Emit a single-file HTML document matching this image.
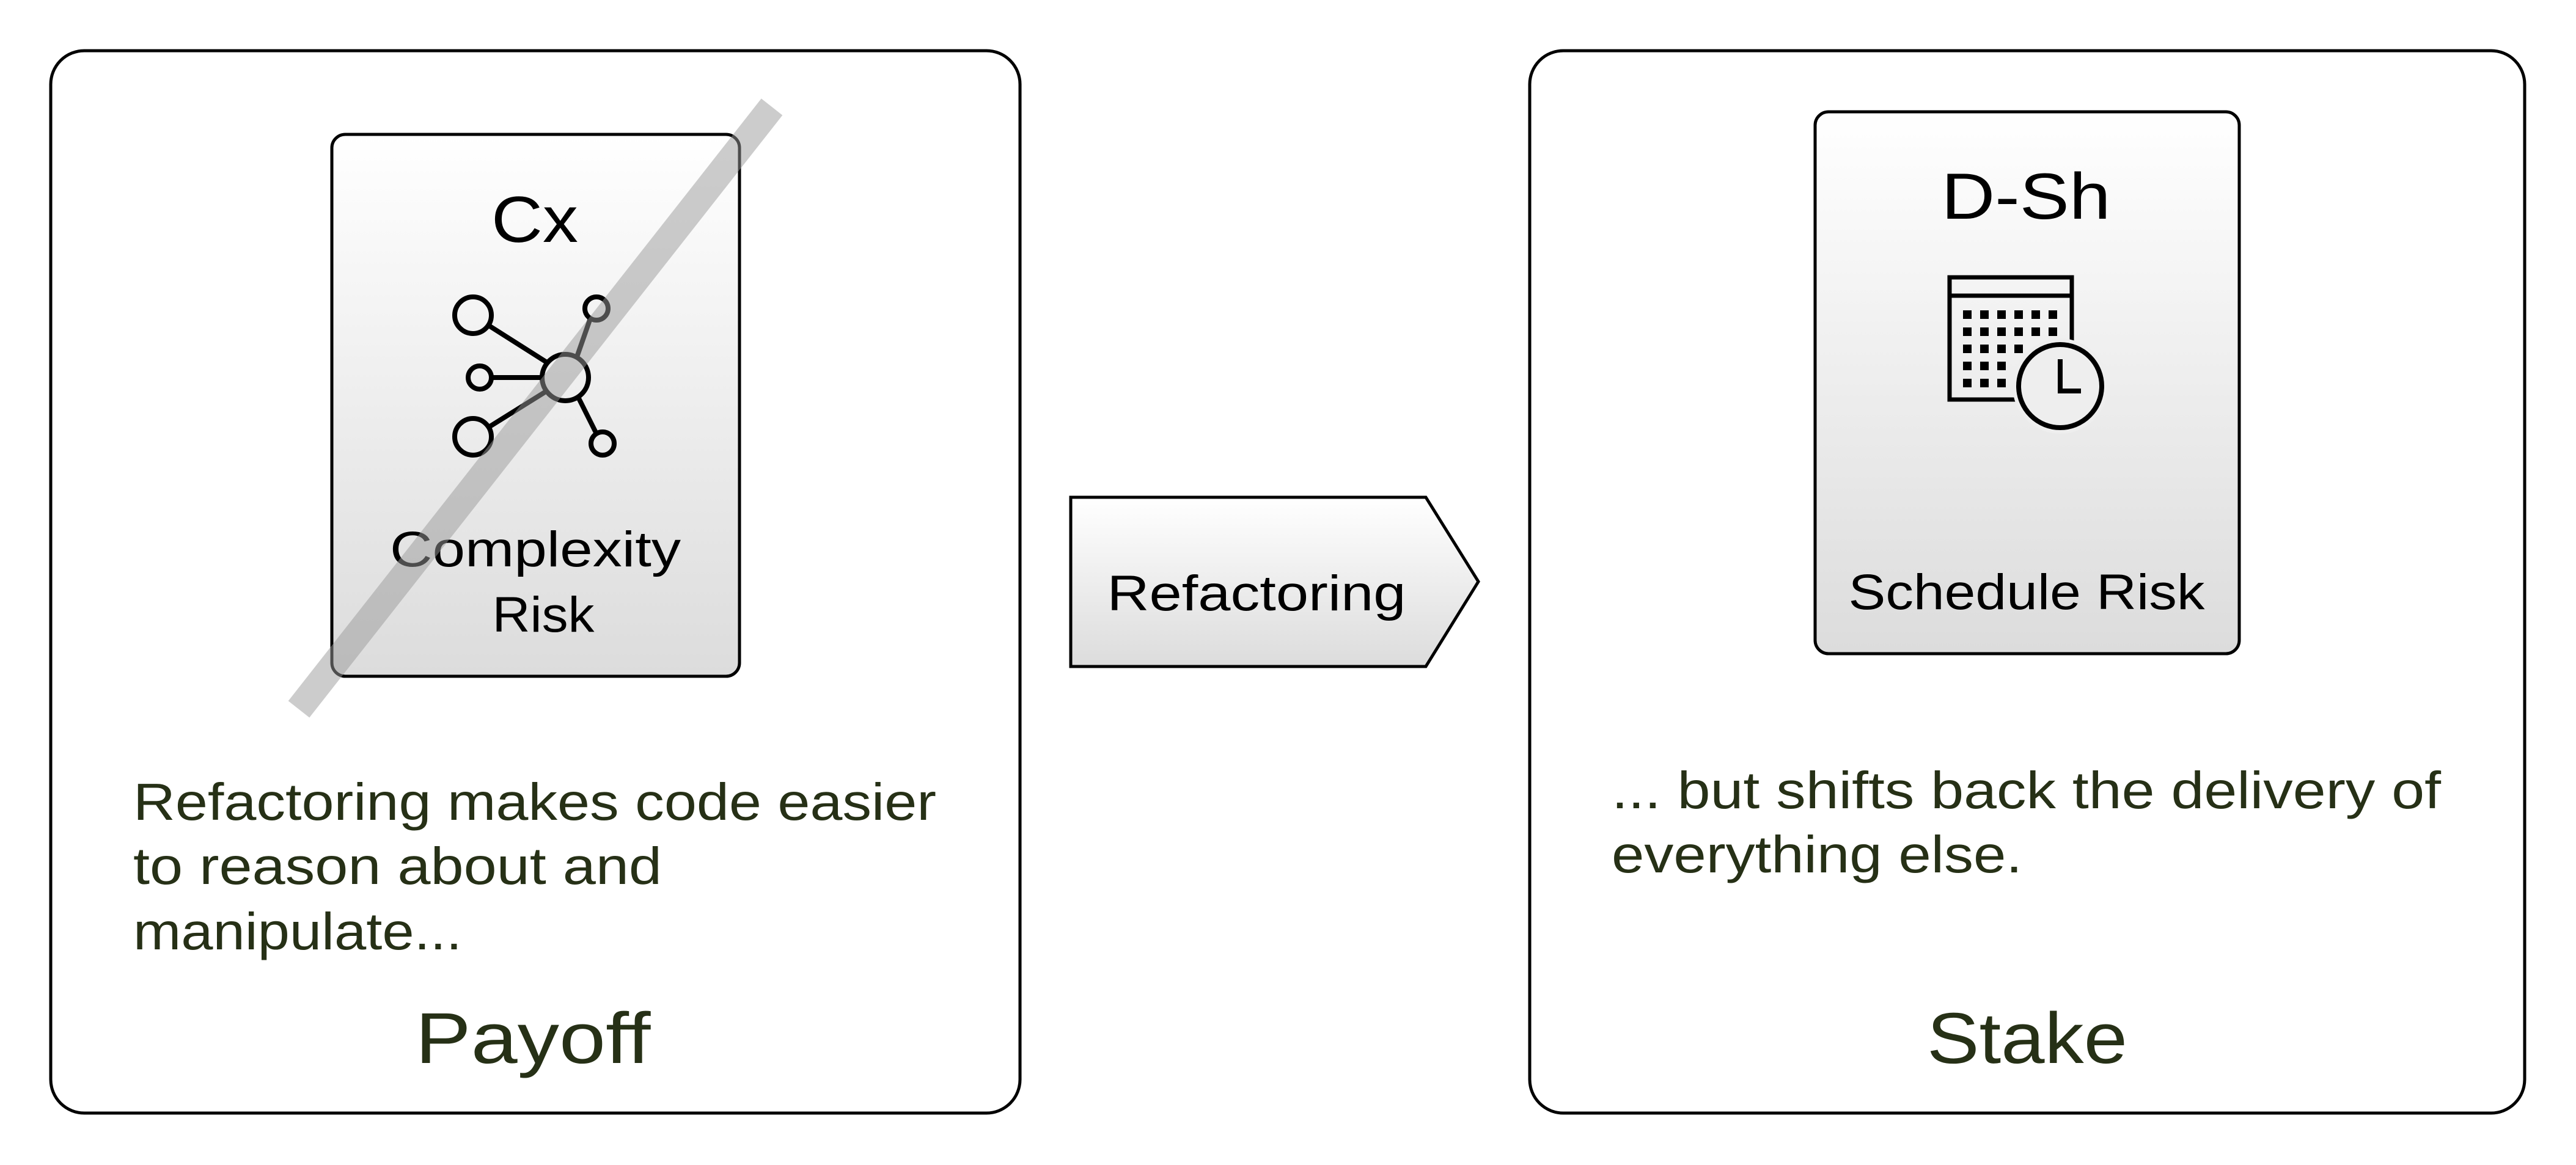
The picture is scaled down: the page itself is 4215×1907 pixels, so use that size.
<!DOCTYPE html>
<html><head><meta charset="utf-8"><style>
html,body{margin:0;padding:0;background:#fff;}
svg{display:block;}
text{font-family:"Liberation Sans",sans-serif;}
</style></head><body>
<svg width="4215" height="1907" viewBox="0 0 4215 1907" xmlns="http://www.w3.org/2000/svg">
<defs>
<linearGradient id="g" x1="0" y1="0" x2="0" y2="1">
<stop offset="0" stop-color="#ffffff"/><stop offset="1" stop-color="#dcdcdc"/>
</linearGradient>
</defs>
<rect x="83" y="83" width="1586" height="1739" rx="55" fill="#fff" stroke="#000" stroke-width="5"/>
<rect x="543" y="220" width="667" height="887" rx="22" fill="url(#g)" stroke="#000" stroke-width="5"/>
<text x="875" y="396" font-size="107" text-anchor="middle" textLength="142" lengthAdjust="spacingAndGlyphs" fill="#000">Cx</text>
<g stroke="#000" stroke-width="8" fill="none">
<line x1="800" y1="533" x2="893" y2="592"/>
<line x1="804" y1="618" x2="887" y2="618"/>
<line x1="800" y1="699" x2="893" y2="641"/>
<line x1="966" y1="521" x2="944" y2="584"/>
<line x1="976" y1="710" x2="946" y2="650"/>
<circle cx="925" cy="618" r="38"/>
<circle cx="774" cy="516" r="30"/>
<circle cx="785" cy="618" r="19"/>
<circle cx="774" cy="715" r="30"/>
<circle cx="976" cy="505" r="19"/>
<circle cx="986" cy="726" r="19"/>
</g>
<text x="876" y="927" font-size="82" text-anchor="middle" textLength="476" lengthAdjust="spacingAndGlyphs" fill="#000">Complexity</text>
<text x="889" y="1034" font-size="82" text-anchor="middle" textLength="167" lengthAdjust="spacingAndGlyphs" fill="#000">Risk</text>
<line x1="1263" y1="175" x2="489" y2="1161" stroke="#999" stroke-opacity="0.5" stroke-width="44"/>
<g fill="#263016" font-size="85">
<text x="218" y="1342" textLength="1314" lengthAdjust="spacingAndGlyphs">Refactoring makes code easier</text>
<text x="218" y="1447" textLength="865" lengthAdjust="spacingAndGlyphs">to reason about and</text>
<text x="218" y="1554" textLength="538" lengthAdjust="spacingAndGlyphs">manipulate...</text>
</g>
<text x="872" y="1740" font-size="118" text-anchor="middle" textLength="385" lengthAdjust="spacingAndGlyphs" fill="#263016">Payoff</text>

<polygon points="1752,814 2333,814 2419,952 2333,1091 1752,1091" fill="url(#g)" stroke="#000" stroke-width="5"/>
<text x="2056" y="999" font-size="82" text-anchor="middle" textLength="489" lengthAdjust="spacingAndGlyphs" fill="#000">Refactoring</text>

<rect x="2503" y="83" width="1628" height="1739" rx="55" fill="#fff" stroke="#000" stroke-width="5"/>
<rect x="2970" y="183" width="694" height="887" rx="22" fill="url(#g)" stroke="#000" stroke-width="5"/>
<text x="3315" y="358" font-size="107" text-anchor="middle" textLength="277" lengthAdjust="spacingAndGlyphs" fill="#000">D-Sh</text>
<g>
<rect x="3190" y="454" width="200" height="200" fill="none" stroke="#000" stroke-width="7"/>
<line x1="3190" y1="484" x2="3390" y2="484" stroke="#000" stroke-width="7"/>
<g fill="#000">
<rect x="3212" y="508" width="14" height="14"/><rect x="3240" y="508" width="14" height="14"/><rect x="3268" y="508" width="14" height="14"/><rect x="3296" y="508" width="14" height="14"/><rect x="3324" y="508" width="14" height="14"/><rect x="3352" y="508" width="14" height="14"/>
<rect x="3212" y="536" width="14" height="14"/><rect x="3240" y="536" width="14" height="14"/><rect x="3268" y="536" width="14" height="14"/><rect x="3296" y="536" width="14" height="14"/><rect x="3324" y="536" width="14" height="14"/><rect x="3352" y="536" width="14" height="14"/>
<rect x="3212" y="564" width="14" height="14"/><rect x="3240" y="564" width="14" height="14"/><rect x="3268" y="564" width="14" height="14"/><rect x="3296" y="564" width="14" height="14"/>
<rect x="3212" y="592" width="14" height="14"/><rect x="3240" y="592" width="14" height="14"/><rect x="3268" y="592" width="14" height="14"/>
<rect x="3212" y="620" width="14" height="14"/><rect x="3240" y="620" width="14" height="14"/><rect x="3268" y="620" width="14" height="14"/>
</g>
<circle cx="3371" cy="632" r="72" fill="#eee" stroke="#eee" stroke-width="12"/>
<circle cx="3371" cy="632" r="68" fill="none" stroke="#000" stroke-width="8"/>
<polyline points="3371,588 3371,640 3405,640" fill="none" stroke="#000" stroke-width="8"/>
</g>
<text x="3316" y="997" font-size="82" text-anchor="middle" textLength="583" lengthAdjust="spacingAndGlyphs" fill="#000">Schedule Risk</text>
<g fill="#263016" font-size="85">
<text x="2637" y="1323" textLength="1357" lengthAdjust="spacingAndGlyphs">... but shifts back the delivery of</text>
<text x="2637" y="1428" textLength="672" lengthAdjust="spacingAndGlyphs">everything else.</text>
</g>
<text x="3317" y="1740" font-size="118" text-anchor="middle" textLength="328" lengthAdjust="spacingAndGlyphs" fill="#263016">Stake</text>
</svg>
</body></html>
